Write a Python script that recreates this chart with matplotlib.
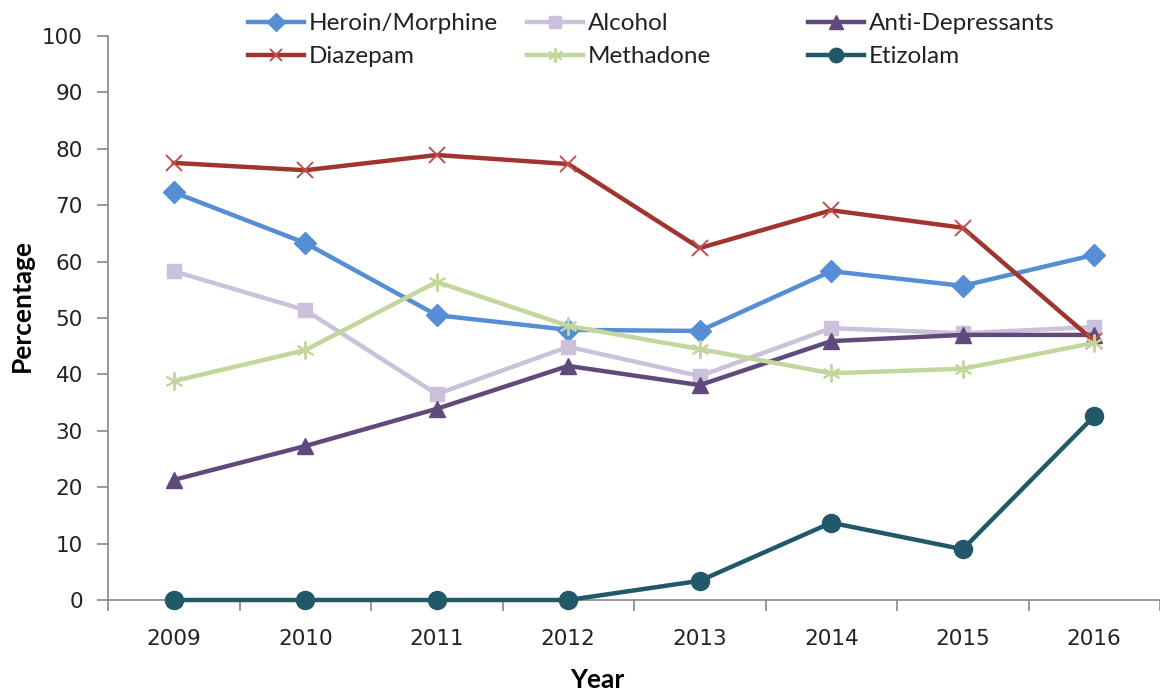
import matplotlib.pyplot as plt
from matplotlib.lines import Line2D

years = ['2009', '2010', '2011', '2012', '2013', '2014', '2015', '2016']

heroin = [72.3, 63.3, 50.5, 47.9, 47.7, 58.3, 55.7, 61.2]
alcohol = [58.3, 51.4, 36.5, 44.9, 39.7, 48.2, 47.3, 48.4]
anti_dep = [21.3, 27.3, 33.9, 41.5, 38.1, 45.9, 47.0, 47.0]
diazepam = [77.5, 76.2, 78.9, 77.3, 62.4, 69.1, 66.0, 45.9]
methadone = [38.8, 44.3, 56.4, 48.6, 44.5, 40.2, 41.0, 45.6]
etizolam = [0, 0, 0, 0, 3.4, 13.7, 9.0, 32.6]

series = [
    ('Heroin/Morphine', heroin, '#558ED5', 'D', 11, {}),
    ('Alcohol', alcohol, '#CCC1DA', 's', 10, {}),
    ('Anti-Depressants', anti_dep, '#604A7B', '^', 12, {}),
    ('Diazepam', diazepam, '#A0352F', 'x', 11, {'mew': 1.4, 'mec': '#C0504D'}),
    ('Methadone', methadone, '#C3D69B', (6, 2, 0), 13, {'mew': 1.4}),
    ('Etizolam', etizolam, '#215968', 'o', 13, {}),
]

W, H = 1160, 692
fig = plt.figure(figsize=(W / 100, H / 100), dpi=100)
ax = fig.add_axes([108 / W, (H - 600) / H, (1160 - 108) / W, 564 / H])

x = list(range(len(years)))
handles = []
for name, vals, col, mk, ms, kw in series:
    mec = kw.get('mec', col)
    mew = kw.get('mew', 1)
    ax.plot(x, vals, color=col, lw=3.2, marker=mk, ms=ms, mfc=col,
            mec=mec, mew=mew, clip_on=False, zorder=3, label=name)
    # smaller markers for the legend keys
    handles.append(Line2D([], [], color=col, lw=3.2, marker=mk, ms=ms * 0.8,
                          mfc=col, mec=mec, mew=mew))

ax.set_ylim(0, 100)
ax.set_xlim(-0.5, 7 + 59 / 132.4)
ax.set_yticks(range(0, 101, 10))
ax.set_xticks(x)
ax.set_xticklabels(years)
ax.set_xticks([i - 0.5 for i in range(len(years) + 1)], minor=True)

for s in ['top', 'right']:
    ax.spines[s].set_visible(False)
for s in ['left', 'bottom']:
    ax.spines[s].set_color('#888888')
    ax.spines[s].set_linewidth(1.2)

ax.tick_params(axis='y', direction='out', length=8, width=1.2, color='#888888',
               labelsize=15.5, pad=10, labelcolor='#222222')
ax.tick_params(axis='x', which='major', length=0, pad=21, labelsize=15.5,
               labelcolor='#222222')
ax.tick_params(axis='x', which='minor', direction='out', length=8, width=1.2,
               color='#888888')

ax.set_ylabel('Percentage', fontfamily='Lato', fontweight='bold', fontsize=19,
              va='center')
ax.set_xlabel('Year', fontfamily='Lato', fontweight='bold', fontsize=19,
              va='center')
ax.yaxis.set_label_coords(-(108 - 22) / 1052, (600 - 306) / 564)
ax.xaxis.set_label_coords((597 - 108) / 1052, -(680 - 600) / 564)

# legend: three fixed-width columns, two rows each
cols = [(248, [0, 3]), (527, [1, 4]), (808, [2, 5])]
for px, idx in cols:
    leg = fig.legend([handles[i] for i in idx], [series[i][0] for i in idx],
                     loc='upper left', bbox_to_anchor=(px / W, 1 - 13 / H),
                     frameon=False, borderpad=0, borderaxespad=0,
                     handlelength=2.3, handletextpad=0.2, labelspacing=0.5,
                     prop={'family': 'Lato', 'size': 17.5})
    for t in leg.get_texts():
        t.set_color('#222222')

fig.savefig('out.png', dpi=100)
